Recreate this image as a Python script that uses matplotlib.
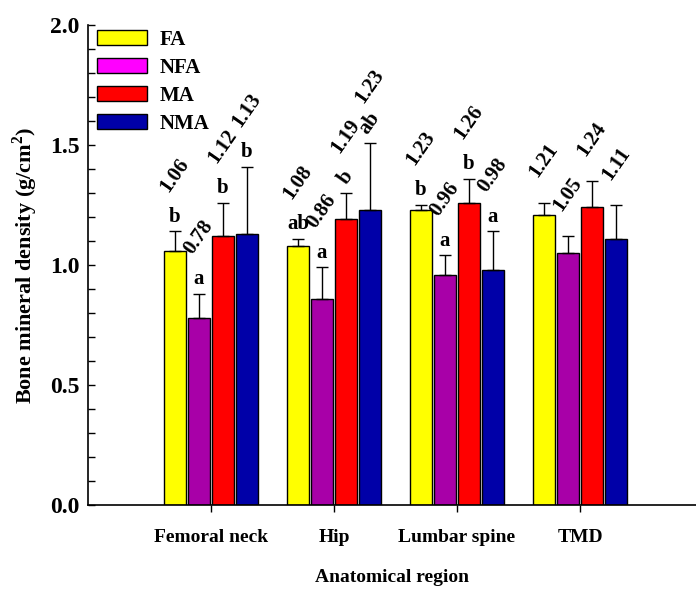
import matplotlib.pyplot as plt
import numpy as np
from matplotlib.patches import Patch
from matplotlib.ticker import MultipleLocator

regions = ["Femoral neck", "Hip", "Lumbar spine", "TMD"]
groups = ["FA", "NFA", "MA", "NMA"]

fa = [1.06, 1.08, 1.23, 1.21]
nfa = [0.78, 0.86, 0.96, 1.05]
ma = [1.12, 1.19, 1.26, 1.24]
nma = [1.13, 1.23, 0.98, 1.11]

fa_err = [0.08, 0.03, 0.02, 0.05]
nfa_err = [0.10, 0.13, 0.08, 0.07]
ma_err = [0.14, 0.11, 0.10, 0.11]
nma_err = [0.28, 0.28, 0.16, 0.14]

fa_let = ["b", "ab", "b", ""]
nfa_let = ["a", "a", "a", ""]
ma_let = ["b", "b", "b", ""]
nma_let = ["b", "ab", "a", ""]

bar_colors = ["#FFFF00", "#A800A8", "#FF0000", "#0000A8"]
legend_colors = ["#FFFF00", "#FF00FF", "#FF0000", "#0000A8"]

plt.rcParams['font.family'] = ['Liberation Serif', 'DejaVu Serif']
plt.rcParams['font.weight'] = 'bold'
plt.rcParams['mathtext.fontset'] = 'custom'
plt.rcParams['mathtext.bf'] = 'Liberation Serif:bold'
plt.rcParams['mathtext.rm'] = 'Liberation Serif:bold'

fig = plt.figure(figsize=(6.96, 5.89), dpi=100)
ax = fig.add_axes([88/696, 84/589, 608/696, 480/589])

x = np.arange(1, len(regions) + 1)
step = 0.195
width = 0.18
series = [fa, nfa, ma, nma]
errs = [fa_err, nfa_err, ma_err, nma_err]
lets = [fa_let, nfa_let, ma_let, nma_let]

for i in range(4):
    pos = x + (i - 1.5) * step
    ax.bar(pos, series[i], width, color=bar_colors[i], edgecolor="black", linewidth=1, zorder=2)
    ax.errorbar(pos, series[i], yerr=[np.zeros(4), errs[i]], fmt="none", ecolor="black",
                elinewidth=1, capsize=4.5, capthick=1, zorder=3)
    for j in range(4):
        top = series[i][j] + errs[i][j]
        letter = lets[i][j]
        rot_letter = 55 if (j == 1 and i >= 2) else 0
        if letter:
            ax.text(pos[j], top + 0.02, letter, ha="center", va="bottom", fontsize=15,
                    fontweight="bold", rotation=rot_letter)
            ly = top + 0.15
        else:
            ly = top + 0.09
        ax.text(pos[j], ly, "%.2f" % series[i][j], ha="center", va="bottom", fontsize=15,
                fontweight="bold", rotation=55)

ax.set_xlim(0, 608/123)
ax.set_ylim(0, 2.0)
ax.set_xticks(x)
ax.set_xticklabels(regions, fontsize=14, fontweight="bold")
ax.yaxis.set_major_locator(MultipleLocator(0.5))
ax.yaxis.set_minor_locator(MultipleLocator(0.1))
ax.set_yticks([0, 0.5, 1.0, 1.5, 2.0])
ax.set_yticklabels(["0.0", "0.5", "1.0", "1.5", "2.0"], fontsize=17, fontweight="bold")
ax.tick_params(axis="y", which="both", direction="in", length=5, width=1, pad=6)
ax.tick_params(axis="x", direction="out", length=5, width=1, pad=12)
ax.spines["top"].set_visible(False)
ax.spines["right"].set_visible(False)
ax.spines["left"].set_linewidth(1.2)
ax.spines["bottom"].set_linewidth(1.2)

ax.set_ylabel("Bone mineral density (g/cm$^\\mathbf{2}$)", fontsize=16, fontweight="bold", labelpad=7)
ax.set_xlabel("Anatomical region", fontsize=14, fontweight="bold", labelpad=17)

handles = [Patch(facecolor=c, edgecolor="black", linewidth=1) for c in legend_colors]
ax.legend(handles, groups, loc="upper left", bbox_to_anchor=(9/608, 0.99), frameon=False,
          borderpad=0, borderaxespad=0, handlelength=2.4, handleheight=0.7,
          labelspacing=0.38, handletextpad=0.6,
          prop={"weight": "bold", "size": 15})

plt.savefig("out.png", dpi=100)
